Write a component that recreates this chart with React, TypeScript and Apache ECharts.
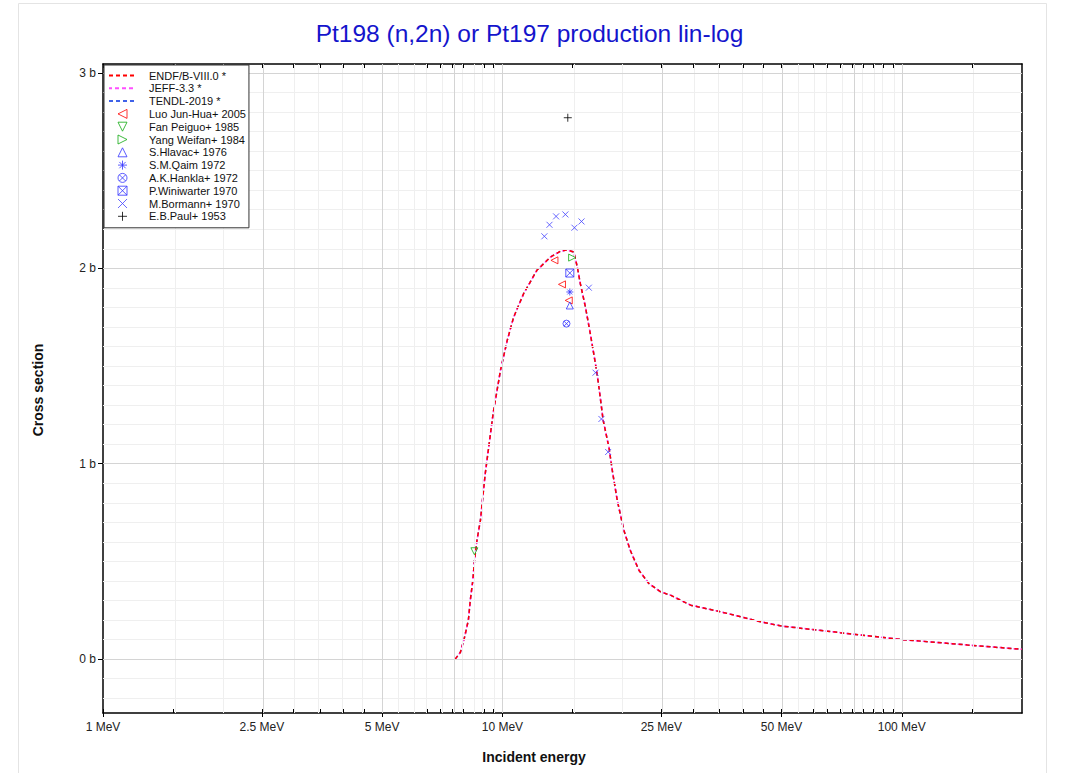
import React, { useEffect, useRef } from 'react';
import * as echarts from 'echarts';

// ---------- axes ----------
const X_MIN_MEV = 1;
const X_MAX_MEV = 200;
const Y_MIN = -0.276;
const Y_MAX = 3.046;
const xLabelValues = [1, 2.5, 5, 10, 25, 50, 100];
const xMajorGrid = [2.5, 5, 7.5, 10, 25, 50, 75, 100];
const xMinorGrid = [1.5, 2, 3, 3.5, 4, 4.5, 5.5, 6, 6.5, 7, 8, 8.5, 9, 9.5, 15, 20, 30, 35, 40, 45, 55, 60, 65, 70, 80, 85, 90, 95, 150];
const yLabelValues = [0, 1, 2, 3];
const yMinorGrid = [-0.2, -0.1, 0.1, 0.2, 0.3, 0.4, 0.5, 0.6, 0.7, 0.8, 0.9, 1.1, 1.2, 1.3, 1.4, 1.5, 1.6, 1.7, 1.8, 1.9, 2.1, 2.2, 2.3, 2.4, 2.5, 2.6, 2.7, 2.8, 2.9, 3.0];

// ---------- evaluated curves (MeV, barn) ----------
const evalE = [7.62, 7.85, 8.03, 8.22, 8.31, 8.43, 8.52, 8.64, 8.81, 9.06, 9.48, 9.89, 10.28, 10.67, 11.3, 12.2, 13.2, 13.97, 14.5, 15.1, 15.4, 15.68, 16.15, 16.6, 17.1, 17.4, 17.88, 18.5, 18.84, 19.39, 20.14, 20.9, 21.97, 23.26, 24.9, 26.36, 29.6, 35.2, 44.3, 50, 65.1, 75, 100, 146, 200];
const evalS = [0, 0.035, 0.107, 0.2, 0.3, 0.4, 0.51, 0.61, 0.71, 0.95, 1.257, 1.478, 1.63, 1.75, 1.87, 1.99, 2.058, 2.087, 2.095, 2.083, 2.007, 1.92, 1.8, 1.666, 1.512, 1.41, 1.222, 1.08, 0.967, 0.813, 0.66, 0.557, 0.455, 0.387, 0.344, 0.327, 0.276, 0.242, 0.191, 0.169, 0.143, 0.128, 0.1, 0.072, 0.05];

// ---------- experimental data ----------
const luoE = [13.5, 14.1, 14.66];
const luoS = [2.041, 1.918, 1.836];
const fanE = [8.51];
const fanS = [0.552];
const yangE = [14.95];
const yangS = [2.055];
const hlavacE = [14.75];
const hlavacS = [1.81];
const qaimE = [14.75];
const qaimS = [1.879];
const hanklaE = [14.47];
const hanklaS = [1.717];
const winiE = [14.75];
const winiS = [1.976];
const bormannE = [12.74, 13.12, 13.63, 14.38, 15.15, 15.78, 16.46, 17.11, 17.7, 18.4];
const bormannS = [2.164, 2.223, 2.266, 2.276, 2.208, 2.24, 1.901, 1.466, 1.229, 1.06];
const paulE = [14.58];
const paulS = [2.771];

const evalNames = ['ENDF/B-VIII.0 *', 'JEFF-3.3 *', 'TENDL-2019 *'];
const expNames = [
  'Luo Jun-Hua+ 2005', 'Fan Peiguo+ 1985', 'Yang Weifan+ 1984', 'S.Hlavac+ 1976', 'S.M.Qaim 1972',
  'A.K.Hankla+ 1972', 'P.Winiwarter 1970', 'M.Bormann+ 1970', 'E.B.Paul+ 1953',
];
const expColors = ['#ff0000', '#11aa11', '#11aa11', '#3333ff', '#3333ff', '#3333ff', '#3333ff', '#4444ff', '#000000'];

const FONT = 'Liberation Sans, Arial, Helvetica, sans-serif';
const lg = (v: number) => Math.log10(v);
const pts = (E: number[], S: number[]) => E.map((e, i) => [lg(e), S[i]]);

const SYM = {
  triLeft: 'path://M10,0L0,5L10,10Z',
  triDown: 'path://M0,0L10,0L5,10Z',
  triRight: 'path://M0,0L10,5L0,10Z',
  triUp: 'path://M5,0L10,10L0,10Z',
  star: 'path://M5,0L5,10M0,5L10,5M1.5,1.5L8.5,8.5M8.5,1.5L1.5,8.5',
  circX: 'path://M10,5A5,5,0,1,1,0,5A5,5,0,1,1,10,5ZM1.5,1.5L8.5,8.5M8.5,1.5L1.5,8.5',
  sqX: 'path://M0,0L10,0L10,10L0,10ZM0,0L10,10M10,0L0,10',
  cross: 'path://M0,0L10,10M10,0L0,10',
  plus: 'path://M5,0L5,10M0,5L10,5',
};

function scatter(idx: number, E: number[], S: number[], symbol: string, size = 7) {
  return {
    name: expNames[idx],
    type: 'scatter',
    data: pts(E, S),
    symbol,
    symbolSize: size,
    itemStyle: { color: 'transparent', borderColor: expColors[idx], borderWidth: 1 },
    emphasis: { disabled: true },
    z: 6,
  };
}

function evalLine(name: string, color: string, offset: number, z: number) {
  return {
    name,
    type: 'line',
    data: pts(evalE, evalS),
    symbol: 'none',
    showSymbol: false,
    lineStyle: { color, width: 1.5, type: [4, 3], dashOffset: offset },
    itemStyle: { color },
    emphasis: { disabled: true },
    z,
  };
}

export default function App() {
  const ref = useRef<HTMLDivElement>(null);
  useEffect(() => {
    if (!ref.current) return;
    const chart = echarts.init(ref.current, undefined, { renderer: 'svg' });
    const xmin = lg(X_MIN_MEV);
    const xmax = lg(X_MAX_MEV);
    const allX = [...xLabelValues, ...xMinorGrid, 7.5, 75].map(lg);
    const allY = [...yLabelValues, ...yMinorGrid];
    const gridLines: any[] = [
      ...xMinorGrid.map((v) => ({ xAxis: lg(v), lineStyle: { color: '#efefef', width: 1, type: 'solid' } })),
      ...yMinorGrid.map((v) => ({ yAxis: v, lineStyle: { color: '#efefef', width: 1, type: 'solid' } })),
      ...xMajorGrid.map((v) => ({ xAxis: lg(v), lineStyle: { color: '#d4d4d4', width: 1, type: 'solid' } })),
      ...yLabelValues.map((v) => ({ yAxis: v, lineStyle: { color: '#d4d4d4', width: 1, type: 'solid' } })),
    ];
    const baseX = { type: 'value', min: xmin, max: xmax, splitLine: { show: false }, axisLabel: { show: false } };
    const baseY = { type: 'value', min: Y_MIN, max: Y_MAX, splitLine: { show: false }, axisLabel: { show: false } };
    const axisLine = { show: true, onZero: false, lineStyle: { color: '#000', width: 1.5 } };
    const noLine = { show: false, onZero: false };
    const option: any = {
      animation: false,
      backgroundColor: '#fff',
      textStyle: { fontFamily: FONT },
      grid: { left: 103, right: 49, top: 64, bottom: 60, containLabel: false },
      graphic: [
        { type: 'rect', shape: { x: 18.5, y: 3.5, width: 1028, height: 790 }, style: { fill: 'none', stroke: '#e4e4e4', lineWidth: 1 }, silent: true, z: -10 },
        { type: 'text', x: 529.5, y: 33, style: { text: 'Pt198 (n,2n) or Pt197 production lin-log', font: `24.5px ${FONT}`, fill: '#1414cc', textAlign: 'center', textVerticalAlign: 'middle' } },
        { type: 'text', x: 534, y: 757, style: { text: 'Incident energy', font: `bold 14px ${FONT}`, fill: '#111', textAlign: 'center', textVerticalAlign: 'middle' } },
        { type: 'text', x: 38, y: 390, rotation: Math.PI / 2, style: { text: 'Cross section', font: `bold 14px ${FONT}`, fill: '#111', textAlign: 'center', textVerticalAlign: 'middle' } },
      ],
      xAxis: [
        {
          ...baseX,
          position: 'bottom',
          axisLine,
          axisTick: { show: true, customValues: xLabelValues.map(lg), inside: false, length: 4, lineStyle: { color: '#000' } },
          axisLabel: {
            show: true,
            customValues: xLabelValues.map(lg),
            formatter: (v: number) => {
              const l = xLabelValues.find((x) => Math.abs(lg(x) - v) < 1e-6);
              return `${l} MeV`;
            },
            fontSize: 12,
            fontFamily: FONT,
            color: '#222',
            margin: 8,
          },
        },
        { ...baseX, position: 'bottom', axisLine: noLine, axisTick: { show: true, customValues: allX, inside: true, length: 4, lineStyle: { color: '#000' } } },
        { ...baseX, position: 'top', axisLine, axisTick: { show: true, customValues: allX, inside: true, length: 4, lineStyle: { color: '#000' } } },
      ],
      yAxis: [
        {
          ...baseY,
          position: 'left',
          axisLine,
          axisTick: { show: true, customValues: yLabelValues, inside: false, length: 5, lineStyle: { color: '#000' } },
          axisLabel: { show: true, customValues: yLabelValues, formatter: (v: number) => `${v} b`, fontSize: 12, fontFamily: FONT, color: '#222', margin: 7 },
        },
        { ...baseY, position: 'left', axisLine: noLine, axisTick: { show: true, customValues: allY, inside: true, length: 4, lineStyle: { color: '#000' } } },
        { ...baseY, position: 'right', axisLine, axisTick: { show: true, customValues: allY, inside: true, length: 4, lineStyle: { color: '#000' } } },
      ],
      legend: {
        left: 104,
        top: 65,
        orient: 'vertical',
        selectedMode: false,
        backgroundColor: '#fff',
        borderColor: '#333',
        borderWidth: 1,
        padding: [5, 3, 6, 4],
        itemWidth: 27,
        itemHeight: 9,
        itemGap: 1.8,
        itemStyle: { borderWidth: 1 },
        textStyle: { fontSize: 11, fontFamily: FONT, color: '#111', lineHeight: 11, padding: [0, 0, 0, 8] },
        data: [
          ...evalNames.map((n) => ({ name: n, itemStyle: { opacity: 0 } })),
          ...expNames.map((n, i) => ({ name: n, itemStyle: { color: 'transparent', borderColor: expColors[i], borderWidth: 1 } })),
        ],
        z: 20,
      },
      series: [
        {
          type: 'line',
          data: [],
          silent: true,
          z: 1,
          markLine: { silent: true, symbol: ['none', 'none'], label: { show: false }, emphasis: { disabled: true }, data: gridLines },
        },
        evalLine(evalNames[2], '#3f62e8', 0, 2),
        evalLine(evalNames[1], '#ff4fff', 1.2, 3),
        evalLine(evalNames[0], '#ff0000', 0, 4),
        scatter(0, luoE, luoS, SYM.triLeft),
        scatter(1, fanE, fanS, SYM.triDown),
        scatter(2, yangE, yangS, SYM.triRight),
        scatter(3, hlavacE, hlavacS, SYM.triUp),
        scatter(4, qaimE, qaimS, SYM.star),
        scatter(5, hanklaE, hanklaS, SYM.circX),
        scatter(6, winiE, winiS, SYM.sqX, 8),
        scatter(7, bormannE, bormannS, SYM.cross, 6),
        scatter(8, paulE, paulS, SYM.plus, 8),
      ],
    };
    chart.setOption(option);
    return () => chart.dispose();
  }, []);
  return <div ref={ref} style={{ position: 'fixed', left: 0, top: 0, width: 1071, height: 773 }} />;
}
